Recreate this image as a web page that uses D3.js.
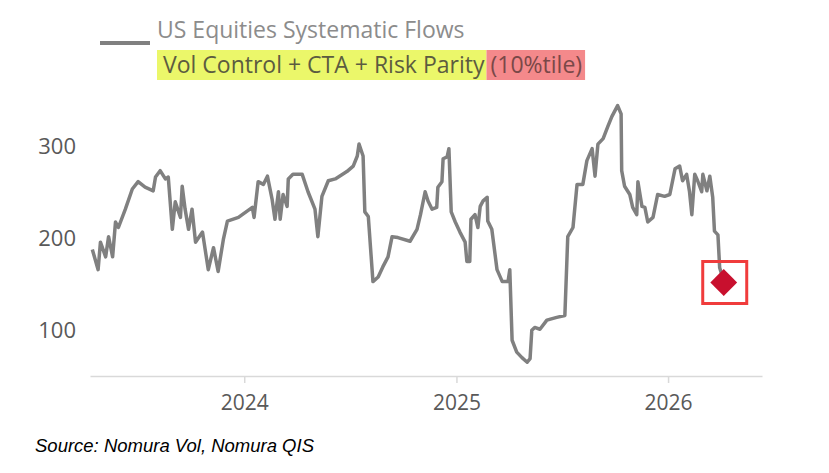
<!DOCTYPE html>
<html>
<head>
<meta charset="utf-8">
<script src="https://cdn.jsdelivr.net/npm/d3@7"></script>
<style>
  html, body { margin: 0; padding: 0; background: #ffffff; }
  svg { display: block; }
</style>
</head>
<body>
<svg id="chart" width="829" height="473"></svg>
<script>
// ---- data ----
const dates = [
  "2023-04-14","2023-04-24","2023-04-28","2023-05-07","2023-05-12","2023-05-19","2023-05-24","2023-05-29",
  "2023-06-10","2023-06-22","2023-07-02","2023-07-14","2023-07-28","2023-08-01","2023-08-09","2023-08-18",
  "2023-08-23","2023-08-30","2023-09-04","2023-09-13","2023-09-16","2023-09-21","2023-09-27","2023-10-03",
  "2023-10-09","2023-10-21","2023-10-31","2023-11-09","2023-11-17","2023-11-26","2023-12-03","2023-12-22",
  "2024-01-15","2024-01-18","2024-01-25","2024-02-03","2024-02-10","2024-02-18","2024-02-23","2024-02-29",
  "2024-03-03","2024-03-08","2024-03-15","2024-03-17","2024-03-25","2024-04-10","2024-04-20","2024-05-02",
  "2024-05-07","2024-05-14","2024-05-25","2024-06-06","2024-06-26","2024-07-07","2024-07-14","2024-07-17",
  "2024-07-24","2024-07-27","2024-08-02","2024-08-10","2024-08-19","2024-08-27","2024-09-05","2024-09-12",
  "2024-09-22","2024-10-13","2024-10-25","2024-10-31","2024-11-08","2024-11-13","2024-11-20","2024-11-28",
  "2024-11-30","2024-12-07","2024-12-09","2024-12-16","2024-12-19","2024-12-23","2024-12-30","2025-01-07",
  "2025-01-16","2025-01-19","2025-01-24","2025-01-26","2025-02-02","2025-02-07","2025-02-11","2025-02-16",
  "2025-02-23","2025-02-24","2025-03-03","2025-03-12","2025-03-21","2025-03-31","2025-04-03","2025-04-07",
  "2025-04-15","2025-04-24","2025-05-03","2025-05-08","2025-05-11","2025-05-16","2025-05-25","2025-06-06",
  "2025-06-23","2025-07-07","2025-07-12","2025-07-21","2025-07-28","2025-08-07","2025-08-14","2025-08-23",
  "2025-08-28","2025-09-02","2025-09-11","2025-09-19","2025-09-26","2025-10-06","2025-10-12","2025-10-13",
  "2025-10-18","2025-10-27","2025-11-01","2025-11-08","2025-11-10","2025-11-17","2025-11-22","2025-11-27",
  "2025-12-06","2025-12-14","2025-12-26","2026-01-04","2026-01-13","2026-01-21","2026-01-26","2026-02-02",
  "2026-02-07","2026-02-11","2026-02-16","2026-02-21","2026-02-28","2026-03-02","2026-03-09","2026-03-14",
  "2026-03-19","2026-03-22","2026-03-28","2026-03-31","2026-04-04"
];
const values = [
  188,166,196,180,202,180,218,212,
  232,254,262,256,252,267,274,265,
  267,210,240,223,257,232,210,232,
  196,207,166,190,164,199,219,223,
  234,223,262,259,268,243,221,251,
  221,248,235,265,270,270,251,232,
  202,246,263,265,273,279,290,303,
  290,229,224,153,158,169,180,202,
  201,197,210,226,251,241,232,234,
  256,262,287,289,298,229,218,207,
  196,175,175,221,226,212,235,241,
  245,219,210,166,153,153,166,89,
  76,70,65,69,100,103,101,111,
  114,116,202,212,259,259,285,298,
  268,303,309,322,333,345,336,274,
  257,248,234,226,262,235,234,218,
  223,248,246,248,276,279,263,270,
  251,226,270,263,251,270,252,268,
  245,208,204,168,160
];
// latest reading (highlighted marker)
const latestDate = "2026-04-07";
const latestValue = 152;

const yTicks = [100, 200, 300];
const xTickYears = ["2024", "2025", "2026"];
const legendTitle = "US Equities Systematic Flows";
const legendPart1 = "Vol Control + CTA + Risk Parity";
const legendPart2 = "(10%tile)";
const sourceText = "Source: Nomura Vol, Nomura QIS";

// ---- drawing ----
const parse = d3.timeParse("%Y-%m-%d");
const data = dates.map((d, i) => ({ date: parse(d), value: values[i] }));

const svg = d3.select("#chart");

const x = d3.scaleTime()
  .domain([parse("2023-04-10"), parse("2026-06-12")])
  .range([90, 762]);
const y = d3.scaleLinear()
  .domain([50, 350])
  .range([376, 101]);

// x axis
const xAxis = d3.axisBottom(x)
  .tickValues(xTickYears.map(s => parse(s + "-01-01")))
  .tickFormat(d3.timeFormat("%Y"))
  .tickSizeInner(7)
  .tickSizeOuter(0)
  .tickPadding(12);
const gx = svg.append("g").attr("transform", "translate(0,376)").call(xAxis);
gx.select(".domain").attr("stroke", "#d9d9d9").attr("stroke-width", 1.5);
gx.selectAll(".tick line").attr("stroke", "#d9d9d9").attr("stroke-width", 1.5);
gx.selectAll(".tick text")
  .attr("fill", "#595959")
  .style("font-family", "'Open Sans', sans-serif")
  .style("font-size", "21px");

// y axis (labels only)
const yAxis = d3.axisLeft(y)
  .tickValues(yTicks)
  .tickSize(0)
  .tickPadding(0);
const gy = svg.append("g").attr("transform", "translate(76,0)").call(yAxis);
gy.select(".domain").remove();
gy.selectAll(".tick text")
  .attr("fill", "#595959")
  .style("font-family", "'Open Sans', sans-serif")
  .style("font-size", "22px");

// line
const line = d3.line()
  .x(d => x(d.date))
  .y(d => y(d.value));
svg.append("path")
  .datum(data)
  .attr("fill", "none")
  .attr("stroke", "#808080")
  .attr("stroke-width", 3.5)
  .attr("stroke-linejoin", "round")
  .attr("d", line);

// latest marker: red box + diamond
const mx = x(parse(latestDate)), my = y(latestValue);
svg.append("rect")
  .attr("x", mx - 21).attr("y", my - 21)
  .attr("width", 44).attr("height", 42)
  .attr("fill", "none")
  .attr("stroke", "#f03c3c")
  .attr("stroke-width", 3);
svg.append("path")
  .attr("d", d3.symbol().type(d3.symbolSquare).size(360)())
  .attr("transform", `translate(${mx},${my}) rotate(45)`)
  .attr("fill", "#c8102e");

// legend
const lg = svg.append("g");
lg.append("line")
  .attr("x1", 100).attr("x2", 150).attr("y1", 43).attr("y2", 43)
  .attr("stroke", "#808080").attr("stroke-width", 4);
lg.append("text")
  .attr("x", 157).attr("y", 38)
  .attr("fill", "#8c8c8c")
  .style("font-family", "'Open Sans', sans-serif")
  .style("font-size", "23px")
  .text(legendTitle);

const t1 = lg.append("text")
  .attr("x", 163).attr("y", 73)
  .attr("fill", "#5c5c40")
  .style("font-family", "'Open Sans', sans-serif")
  .style("font-size", "23px")
  .text(legendPart1);
const w1 = t1.node().getComputedTextLength();
const t2 = lg.append("text")
  .attr("x", 163 + w1 + 6).attr("y", 73)
  .attr("fill", "#7a4848")
  .style("font-family", "'Open Sans', sans-serif")
  .style("font-size", "23px")
  .text(legendPart2);
const w2 = t2.node().getComputedTextLength();
lg.insert("rect", "text")
  .attr("x", 157).attr("y", 50).attr("width", w1 + 8).attr("height", 30)
  .attr("fill", "#ebf76a");
lg.insert("rect", "text")
  .attr("x", 163 + w1 + 2).attr("y", 50).attr("width", w2 + 7).attr("height", 30)
  .attr("fill", "#f4898b");

// source
svg.append("text")
  .attr("x", 35).attr("y", 452)
  .attr("fill", "#000000")
  .style("font-family", "'Liberation Sans', Arial, sans-serif")
  .style("font-style", "italic")
  .style("font-size", "18.5px")
  .text(sourceText);
</script>
</body>
</html>
